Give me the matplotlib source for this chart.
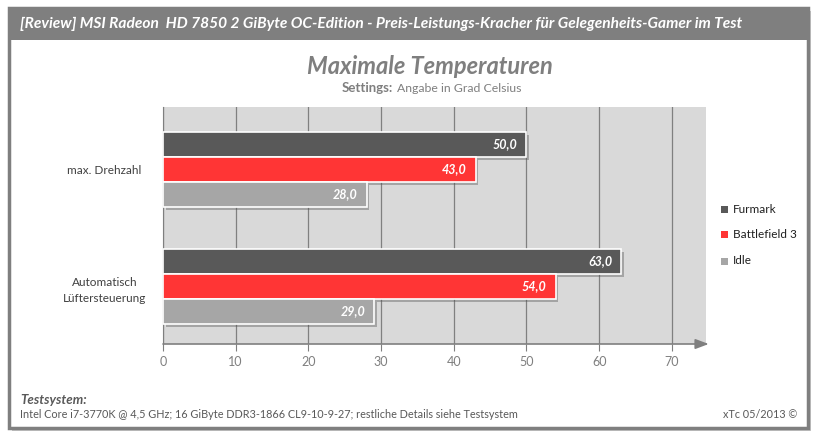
import matplotlib.pyplot as plt
import matplotlib.patches as patches
import matplotlib.patheffects as pe
import numpy as np

plt.rcParams['font.family'] = ['Lato', 'DejaVu Sans']

# data
categories = ['max. Drehzahl', 'Automatisch\nLüftersteuerung']
series = ['Furmark', 'Battlefield 3', 'Idle']
values = {
    'Furmark': [50.0, 63.0],
    'Battlefield 3': [43.0, 54.0],
    'Idle': [28.0, 29.0],
}
colors = ['#595959', '#ff3535', '#a6a6a6']
xticks = [0, 10, 20, 30, 40, 50, 60, 70]

W, H = 816, 438
fig = plt.figure(figsize=(W / 100, H / 100), dpi=100)

def fx(px):
    return px / W

def fy(py):
    return 1 - py / H

# outer frame with shadow and header band
shadow = patches.Rectangle((fx(12), fy(431)), fx(799), (420) / H, transform=fig.transFigure,
                           facecolor='#c8c8c8', edgecolor='none', zorder=0)
fig.patches.append(shadow)
frame = patches.Rectangle((fx(9), fy(428)), fx(799), (420) / H, transform=fig.transFigure,
                          facecolor='white', edgecolor='#7f7f7f', linewidth=2.5, zorder=1)
fig.patches.append(frame)
header = patches.Rectangle((fx(9), fy(40)), fx(799), 32 / H, transform=fig.transFigure,
                           facecolor='#7f7f7f', edgecolor='none', zorder=2)
fig.patches.append(header)

fig.text(fx(20), fy(24), '[Review] MSI Radeon  HD 7850 2 GiByte OC-Edition - Preis-Leistungs-Kracher für Gelegenheits-Gamer im Test',
         color='white', fontsize=11.2, fontstyle='italic', fontweight='bold', va='center', ha='left', zorder=3)

fig.text(fx(430), fy(67), 'Maximale Temperaturen', color='#7f7f7f', fontsize=17,
         fontstyle='italic', fontweight='bold', ha='center', va='center')
fig.text(fx(393), fy(88), 'Settings:', color='#7f7f7f', fontsize=9.5, fontweight='bold',
         ha='right', va='center')
fig.text(fx(397), fy(88), 'Angabe in Grad Celsius', color='#7f7f7f', fontsize=8.8,
         ha='left', va='center')

# plot area
ax = fig.add_axes([fx(163), fy(344), fx(706) - fx(163), (344 - 107) / H])
ax.set_zorder(5)
ax.set_facecolor('#d9d9d9')
ax.set_xlim(0, 74.7)
ax.set_ylim(1.491, -0.534)

y = np.arange(len(categories))
bh = 25 / 117
offsets = [-bh, 0, bh]
shadow_fx = [pe.SimplePatchShadow(offset=(2, -2), shadow_rgbFace='#555555', alpha=0.4), pe.Normal()]
for name, col, off in zip(series, colors, offsets):
    bars = ax.barh(y + off, values[name], height=bh, color=col, edgecolor='white',
                   linewidth=1.2, zorder=3, label=name)
    for b in bars:
        b.set_path_effects(shadow_fx)
    for yi, v in zip(y + off, values[name]):
        ax.text(v - 1.2, yi, f'{v:.1f}'.replace('.', ','), ha='right', va='center',
                color='white', fontsize=9, fontstyle='italic', fontweight='bold', zorder=4)

ax.set_xticks(xticks)
ax.set_xticklabels([str(t) for t in xticks], color='#7f7f7f', fontsize=9)
ax.set_yticks(y)
ax.set_yticklabels(categories, fontsize=8.5, color='#404040', ha='center', linespacing=1.6)
ax.tick_params(axis='y', length=0, pad=42)
ax.tick_params(axis='x', length=5, color='#7f7f7f', pad=4, direction='out')
ax.grid(axis='x', color='#808080', linewidth=0.9, zorder=1)
ax.set_axisbelow(True)
for s in ['top', 'right']:
    ax.spines[s].set_visible(False)
ax.spines['left'].set_color('#7f7f7f')
ax.spines['bottom'].set_visible(False)
ax.annotate('', xy=(1.005, 0), xycoords='axes fraction', xytext=(0, 0),
            arrowprops=dict(arrowstyle='-|>,head_length=0.8,head_width=0.3', color='#7f7f7f', lw=1.2,
                            shrinkA=0, shrinkB=0), annotation_clip=False)

# legend
for i, (name, col) in enumerate(zip(series, colors)):
    yy = 209 + 26 * i
    fig.patches.append(patches.Rectangle((fx(721), fy(yy + 3.5)), fx(7), 7 / H,
                                         transform=fig.transFigure, facecolor=col, edgecolor='none', zorder=3))
    fig.text(fx(733), fy(yy), name, fontsize=8.5, color='#202020', va='center', ha='left')

# footer
fig.text(fx(20), fy(400), 'Testsystem:', color='#595959', fontsize=9.5, fontstyle='italic',
         fontweight='bold', va='center')
fig.text(fx(20), fy(415), 'Intel Core i7-3770K @ 4,5 GHz; 16 GiByte DDR3-1866 CL9-10-9-27; restliche Details siehe Testsystem',
         color='#595959', fontsize=7.8, va='center')
fig.text(fx(797), fy(415), 'xTc 05/2013 ©', color='#595959', fontsize=7.8, va='center', ha='right')

fig.savefig('out.png', dpi=100)
